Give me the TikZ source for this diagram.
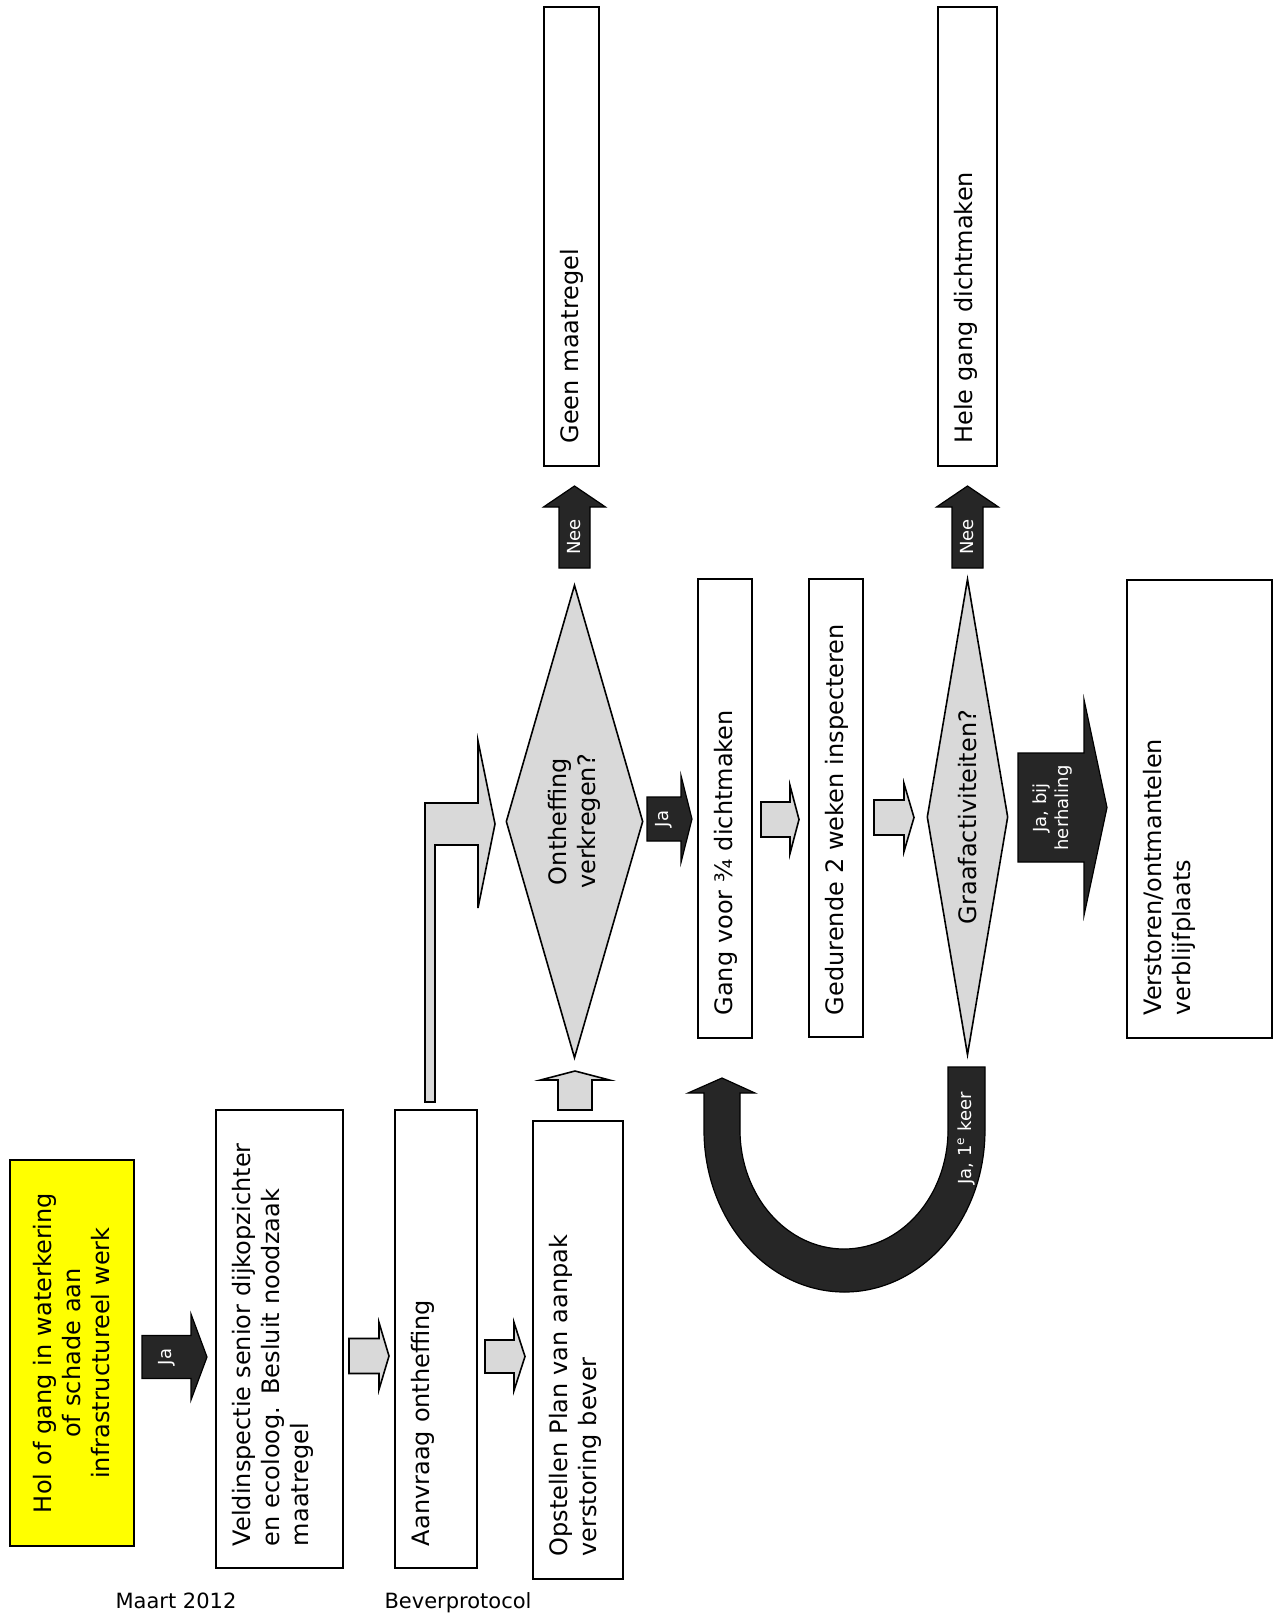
\documentclass[tikz,border=0pt]{standalone}
\usepackage{fontspec}
\setmainfont{DejaVu Sans}
\usetikzlibrary{shapes.geometric}

\definecolor{lichtgrijs}{HTML}{D9D9D9}
\definecolor{donker}{HTML}{262626}
\definecolor{geel}{HTML}{FFFF00}

% block arrow to the right: [style]{tail x}{head x}{tip x}{y}{half shaft}{half head}
\newcommand{\pijlrechts}[7][]{\draw[#1] (#2,#5-#6) -- (#3,#5-#6) -- (#3,#5-#7) -- (#4,#5)
  -- (#3,#5+#7) -- (#3,#5+#6) -- (#2,#5+#6) -- cycle;}
% block arrow upwards: [style]{tail y}{head y}{tip y}{x}{half shaft}{half head}
\newcommand{\pijlop}[7][]{\draw[#1] (#5-#6,#2) -- (#5-#6,#3) -- (#5-#7,#3) -- (#5,#4)
  -- (#5+#7,#3) -- (#5+#6,#3) -- (#5+#6,#2) -- cycle;}

\begin{document}
\begin{tikzpicture}[x=0.5pt, y=-0.5pt,
    stap/.style={draw, line width=1pt, rotate=90, inner xsep=11pt, inner ysep=0pt,
      minimum width=229pt, text width=207pt, text height=17pt, align=left,
      font=\fontsize{12}{14.5}\selectfont},
    keuze/.style={diamond, draw, fill=lichtgrijs, line width=0.8pt, rotate=90,
      inner sep=0pt, align=center, font=\fontsize{12}{14.5}\selectfont},
    grijs/.style={draw, fill=lichtgrijs, line width=0.8pt},
    zwart/.style={draw, fill=donker, line width=0.6pt},
    tekst/.style={text=white, rotate=90, inner sep=0pt, align=center,
      font=\fontsize{9}{11}\selectfont}]
  \useasboundingbox (0,0) rectangle (1273,1613);

  % boxes
  \node[draw, fill=geel, line width=1pt, rotate=90, minimum width=193pt, minimum height=62pt,
    text width=175pt, align=center, font=\fontsize{12}{14.5}\selectfont] (hol) at (72,1353)
    {Hol of gang in waterkering\\ of schade aan\\ infrastructureel werk};
  \node[stap, text depth=46.5pt] (veld) at (279.5,1339)
    {Veldinspectie senior dijkopzichter\\ en ecoloog. Besluit noodzaak\\ maatregel};
  \node[stap, text depth=24pt] (aanvraag) at (436,1339) {Aanvraag ontheffing};
  \node[stap, text depth=28pt, minimum width=228.5pt] (plan) at (578,1349.5)
    {Opstellen Plan van aanpak\\ verstoring bever};
  \node[keuze, minimum width=236.5pt, minimum height=68.5pt, aspect=3.45] (onth) at (574.5,821.5)
    {Ontheffing\\ verkregen?};
  \node[stap, text depth=10.5pt, minimum width=229.5pt] (geen) at (571.5,236.5) {Geen maatregel};
  \node[stap, text depth=10pt, minimum width=229.5pt] (gang) at (725,808.5) {Gang voor ¾ dichtmaken};
  \node[stap, text depth=10pt] (inspectie) at (836,808) {Gedurende 2 weken inspecteren};
  \node[keuze, minimum width=238pt, minimum height=40.5pt, aspect=5.9] (graaf) at (967.5,817)
    {Graafactiviteiten?};
  \node[stap, text depth=12.5pt, minimum width=229.5pt] (hele) at (967.5,236.5) {Hele gang dichtmaken};
  \node[stap, text depth=55.5pt, minimum width=228.5pt] (verstoren) at (1199.5,808.5)
    {Verstoren/ontmantelen\\ verblijfplaats};

  % arrows
  \pijlrechts[zwart]{142}{191}{207}{1357}{21.5}{43}
  \pijlrechts[grijs]{349}{379}{389}{1356}{17.5}{33.5}
  \pijlrechts[grijs]{485}{514}{525}{1356.5}{16.5}{34}
  \pijlop[grijs]{1110}{1080}{1071}{575}{17}{34.5}
  \draw[grijs] (425,1102) -- (425,803) -- (478,803) -- (478,741) -- (495,824)
    -- (478,908) -- (478,845) -- (435,845) -- (435,1102) -- cycle;
  \pijlrechts[zwart]{647}{681}{692}{819}{22}{43.5}
  \pijlop[zwart]{568}{507}{486}{574.5}{15.5}{31}
  \pijlrechts[grijs]{761}{790}{799}{819.5}{17.5}{34}
  \pijlrechts[grijs]{874}{904}{914}{817.5}{17.5}{34}
  \pijlop[zwart]{568}{507}{486}{967.5}{15.5}{31}
  \pijlrechts[zwart]{1018}{1084}{1107}{807.5}{54.5}{108}
  \draw[zwart] (948,1067) -- (985,1067) -- (985,1130)
    .. controls (985,1219.5) and (922.1,1292) .. (844.5,1292)
    .. controls (766.9,1292) and (704,1219.5) .. (704,1130)
    -- (704,1093) -- (688,1093) -- (722,1078) -- (755,1093) -- (740,1093) -- (740,1130)
    .. controls (740,1195.7) and (786.6,1249) .. (844,1249)
    .. controls (901.4,1249) and (948,1195.7) .. (948,1130) -- cycle;

  % labels on the arrows
  \node[tekst] (ja1) at (166.5,1357) {Ja};
  \node[tekst] (ja2) at (664,819) {Ja};
  \node[tekst] (nee1) at (574.5,537) {Nee};
  \node[tekst] (nee2) at (967.5,537) {Nee};
  \node[tekst] (jabij) at (1053,808) {Ja, bij\\ herhaling};
  \node[tekst] (jakeer) at (966.5,1138) {Ja, 1\textsuperscript{e} keer};

  % footer
  \node[anchor=base, inner sep=0pt, font=\fontsize{10.5}{12.6}\selectfont] (datum) at (176,1608) {Maart 2012};
  \node[anchor=base, inner sep=0pt, font=\fontsize{10.5}{12.6}\selectfont] (protocol) at (458,1608) {Beverprotocol};
\end{tikzpicture}
\end{document}
